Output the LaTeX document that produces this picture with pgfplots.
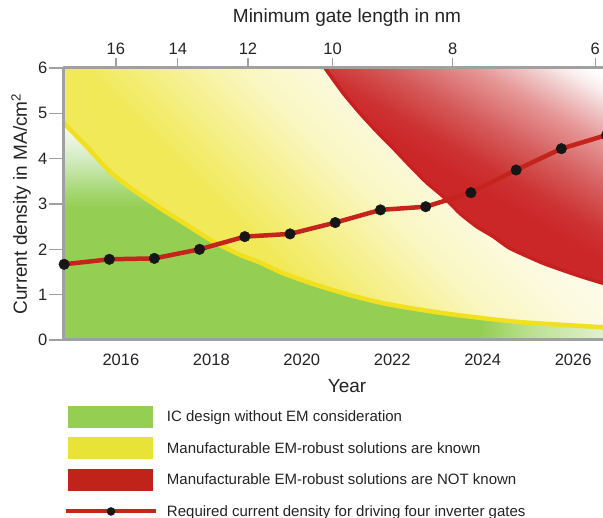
\documentclass[border=0pt]{standalone}
\usepackage{fontspec}
\setmainfont{Liberation Sans}
\usepackage{pgfplots}
\pgfplotsset{compat=1.18}

\definecolor{emgreen}{RGB}{148,206,82}
\definecolor{gmid}{RGB}{186,224,142}
\definecolor{gpale}{RGB}{224,240,208}
\definecolor{gpale2}{RGB}{235,245,226}
\definecolor{gv1}{RGB}{162,214,110}
\definecolor{gv2}{RGB}{186,225,150}
\definecolor{gv3}{RGB}{210,235,190}
\definecolor{gv4}{RGB}{230,242,220}
\definecolor{gv5}{RGB}{245,250,240}
\definecolor{emyellow}{RGB}{233,227,55}
\definecolor{yelfill}{RGB}{241,233,88}
\definecolor{yelpale}{RGB}{250,247,195}
\definecolor{yelcream}{RGB}{252,250,222}
\definecolor{yelwhite}{RGB}{254,253,240}
\definecolor{emred}{RGB}{192,35,26}
\definecolor{redfill}{RGB}{203,38,40}
\definecolor{r1}{RGB}{205,50,50}
\definecolor{r2}{RGB}{213,90,90}
\definecolor{r3}{RGB}{230,150,150}
\definecolor{r4}{RGB}{240,200,200}
\definecolor{r5}{RGB}{250,236,236}
\definecolor{yline}{RGB}{240,224,32}
\definecolor{rline}{RGB}{200,32,32}
\definecolor{dline}{RGB}{196,36,28}
\definecolor{axgray}{RGB}{160,160,160}
\definecolor{txt}{RGB}{35,35,35}
\definecolor{dot}{RGB}{22,22,22}

\pgfdeclareverticalshading{greenv}{100bp}{color(0bp)=(emgreen); color(55bp)=(emgreen); color(58.7bp)=(gv1); color(62.5bp)=(gv2); color(66.4bp)=(gv3); color(70.3bp)=(gv4); color(74bp)=(gv5); color(100bp)=(gv5)}
\pgfdeclarehorizontalshading{greenh}{100bp}{color(0bp)=(emgreen); color(40bp)=(emgreen); color(51bp)=(gmid); color(68bp)=(gpale); color(100bp)=(gpale2)}
\pgfdeclareverticalshading{yelsh}{100bp}{color(0bp)=(yelfill); color(38.5bp)=(yelfill); color(52.5bp)=(yelpale); color(59.5bp)=(yelcream); color(68bp)=(yelwhite); color(100bp)=(yelwhite)}
\pgfdeclareverticalshading{redsh}{100bp}{color(0bp)=(redfill); color(48bp)=(redfill); color(53bp)=(r1); color(60bp)=(r2); color(68.7bp)=(r3); color(73.9bp)=(r4); color(77.4bp)=(r5); color(80.5bp)=(white); color(100bp)=(white)}

\newcommand{\legbox}[1]{%
  \pgfpathrectangle{\pgfpoint{-2pt}{-11pt}}{\pgfpoint{90pt}{22pt}}\pgfusepath{discard}%
  \pgfsetfillcolor{#1}\pgfpathrectangle{\pgfpoint{0pt}{-11pt}}{\pgfpoint{85pt}{22pt}}\pgfusepath{fill}}
\newcommand{\legline}{%
  \pgfpathrectangle{\pgfpoint{-2pt}{-11pt}}{\pgfpoint{90pt}{22pt}}\pgfusepath{discard}%
  \pgfsetstrokecolor{dline}\pgfsetlinewidth{4pt}\pgfsetbuttcap
  \pgfpathmoveto{\pgfpoint{-2pt}{0pt}}\pgfpathlineto{\pgfpoint{88pt}{0pt}}\pgfusepath{stroke}%
  \pgfsetfillcolor{dot}\pgfpathcircle{\pgfpoint{43pt}{0pt}}{4.3pt}\pgfusepath{fill}}

\begin{document}
\begin{tikzpicture}
\begin{axis}[
  name=main,
  at={(0pt,0pt)}, anchor=south west,
  scale only axis, width=568pt, height=272pt,
  xmin=2014.72, xmax=2027.28, ymin=0, ymax=6,
  axis x line*=bottom, axis y line*=left,
  axis line style={draw=axgray, line width=3pt},
  xtick={2016,2018,2020,2022,2024,2026},
  xticklabels={2016,2018,2020,2022,2024,2026},
  ytick={0,1,2,3,4,5,6},
  yticklabels={0,1,2,3,4,5,6},
  x tick style={draw=none},
  y tick style={draw=axgray, line width=1.2pt},
  tick align=outside, major tick length=14pt,
  tick label style={font=\fontsize{16.5}{19}\selectfont, text=txt},
  xticklabel style={yshift=4pt},
  yticklabel style={inner sep=1.5pt},
  label style={font=\fontsize{19}{22}\selectfont, text=txt},
  xlabel={Year},
  ylabel={Current density in MA/cm\textsuperscript{2}},
  xlabel style={at={(axis description cs:0.5,-0.169)}, anchor=center},
  ylabel style={at={(axis description cs:-0.0739,0.5)}, anchor=center},
  clip=false, set layers,
  legend cell align=left,
  legend style={at={(axis description cs:0.00176,-0.2426)}, anchor=north west,
    draw=none, fill=none, inner sep=0pt, outer sep=0pt,
    /tikz/row sep=9.5pt, /tikz/column sep=9pt,
    font=\fontsize{15}{18}\selectfont, text=txt, nodes={inner sep=0pt}},
]
% green region
\addplot[draw=none, shade, shading=greenv, on layer=axis background,
  legend image code/.code={\legbox{emgreen}}]
  coordinates {(2014.72,4.80) (2015.241,4.27) (2015.757,3.71) (2016.272,3.31) (2016.863,2.91) (2017.454,2.54) (2018.042,2.17) (2018.633,1.88) (2019.075,1.71) (2019.591,1.47) (2020.33,1.21) (2021.066,0.99) (2021.803,0.81) (2022.542,0.68) (2023.279,0.57) (2024.015,0.48) (2024.754,0.40) (2025.491,0.35) (2026.664,0.28) (2027.28,0.25)} \closedcycle;
\addlegendentry{IC design without EM consideration}
\addplot[draw=none, shade, shading=greenh, on layer=axis background, forget plot]
  coordinates {(2022.542,0.68) (2023.279,0.57) (2024.015,0.48) (2024.754,0.40) (2025.491,0.35) (2026.664,0.28) (2027.28,0.25)} \closedcycle;
% yellow region
\addplot[draw=none, shade, shading=yelsh, shading angle=-45, on layer=axis background,
  legend image code/.code={\legbox{emyellow}}]
  coordinates {(2014.72,6) (2027.28,6) (2027.28,0.25) (2026.664,0.28) (2025.491,0.35) (2024.754,0.40) (2024.015,0.48) (2023.279,0.57) (2022.542,0.68) (2021.803,0.81) (2021.066,0.99) (2020.33,1.21) (2019.591,1.47) (2019.075,1.71) (2018.633,1.88) (2018.042,2.17) (2017.454,2.54) (2016.863,2.91) (2016.272,3.31) (2015.757,3.71) (2015.241,4.27) (2014.72,4.80)} -- cycle;
\addlegendentry{Manufacturable EM-robust solutions are known}
% red region
\addplot[draw=none, shade, shading=redsh, shading angle=-29.9, on layer=axis background,
  legend image code/.code={\legbox{emred}}]
  coordinates {(2020.513,6.0) (2020.918,5.44) (2021.288,5.0) (2021.657,4.6) (2022.024,4.23) (2022.394,3.84) (2022.763,3.47) (2023.131,3.16) (2023.50,2.79) (2023.869,2.5) (2024.237,2.28) (2024.606,2.02) (2025.343,1.69) (2026.082,1.43) (2026.664,1.25) (2027.28,1.09) (2027.28,6)} -- cycle;
\addlegendentry{Manufacturable EM-robust solutions are NOT known}
% boundary lines
\addplot[rline, line width=3.5pt, smooth, tension=0.3, forget plot, on layer=axis background]
  coordinates {(2020.513,6.0) (2020.918,5.44) (2021.288,5.0) (2021.657,4.6) (2022.024,4.23) (2022.394,3.84) (2022.763,3.47) (2023.131,3.16) (2023.50,2.79) (2023.869,2.5) (2024.237,2.28) (2024.606,2.02) (2025.343,1.69) (2026.082,1.43) (2026.664,1.25) (2027.28,1.09)};
\addplot[yline, line width=4.5pt, smooth, tension=0.3, forget plot, on layer=axis background]
  coordinates {(2014.72,4.80) (2015.241,4.27) (2015.757,3.71) (2016.272,3.31) (2016.863,2.91) (2017.454,2.54) (2018.042,2.17) (2018.633,1.88) (2019.075,1.71) (2019.591,1.47) (2020.33,1.21) (2021.066,0.99) (2021.803,0.81) (2022.542,0.68) (2023.279,0.57) (2024.015,0.48) (2024.754,0.40) (2025.491,0.35) (2026.664,0.28) (2027.28,0.25)};
% required current density
\addplot[dline, line width=4.5pt, mark=*, mark size=5.3pt,
  mark options={draw=dot, fill=dot, line width=0.4pt},
  legend image code/.code={\legline}]
  coordinates {(2014.745,1.67) (2015.745,1.78) (2016.74,1.80) (2017.74,2.00) (2018.74,2.28) (2019.74,2.34) (2020.74,2.59) (2021.74,2.87) (2022.74,2.94) (2023.74,3.25) (2024.74,3.75) (2025.74,4.22) (2026.74,4.52)};
\addlegendentry{Required current density for driving four inverter gates}
\end{axis}
\begin{axis}[
  at={(0pt,0pt)}, anchor=south west,
  scale only axis, width=568pt, height=272pt,
  xmin=2014.72, xmax=2027.28, ymin=0, ymax=6,
  axis x line*=top, axis y line=none,
  axis line style={draw=axgray, line width=3pt},
  xtick={2015.89,2017.26,2018.81,2020.68,2023.34,2026.49},
  xticklabels={16,14,12,10,8,6},
  x tick style={draw=axgray, line width=1.2pt},
  tick align=outside, major tick length=10pt,
  tick label style={font=\fontsize{16.5}{19}\selectfont, text=txt},
  label style={font=\fontsize{19}{22}\selectfont, text=txt},
  xlabel={Minimum gate length in nm},
  xlabel style={at={(axis description cs:0.5,1.184)}, anchor=center},
]
\end{axis}
\pgfresetboundingbox
\path[use as bounding box] (-63pt,-178pt) rectangle (540pt,340pt);
\end{tikzpicture}
\end{document}
